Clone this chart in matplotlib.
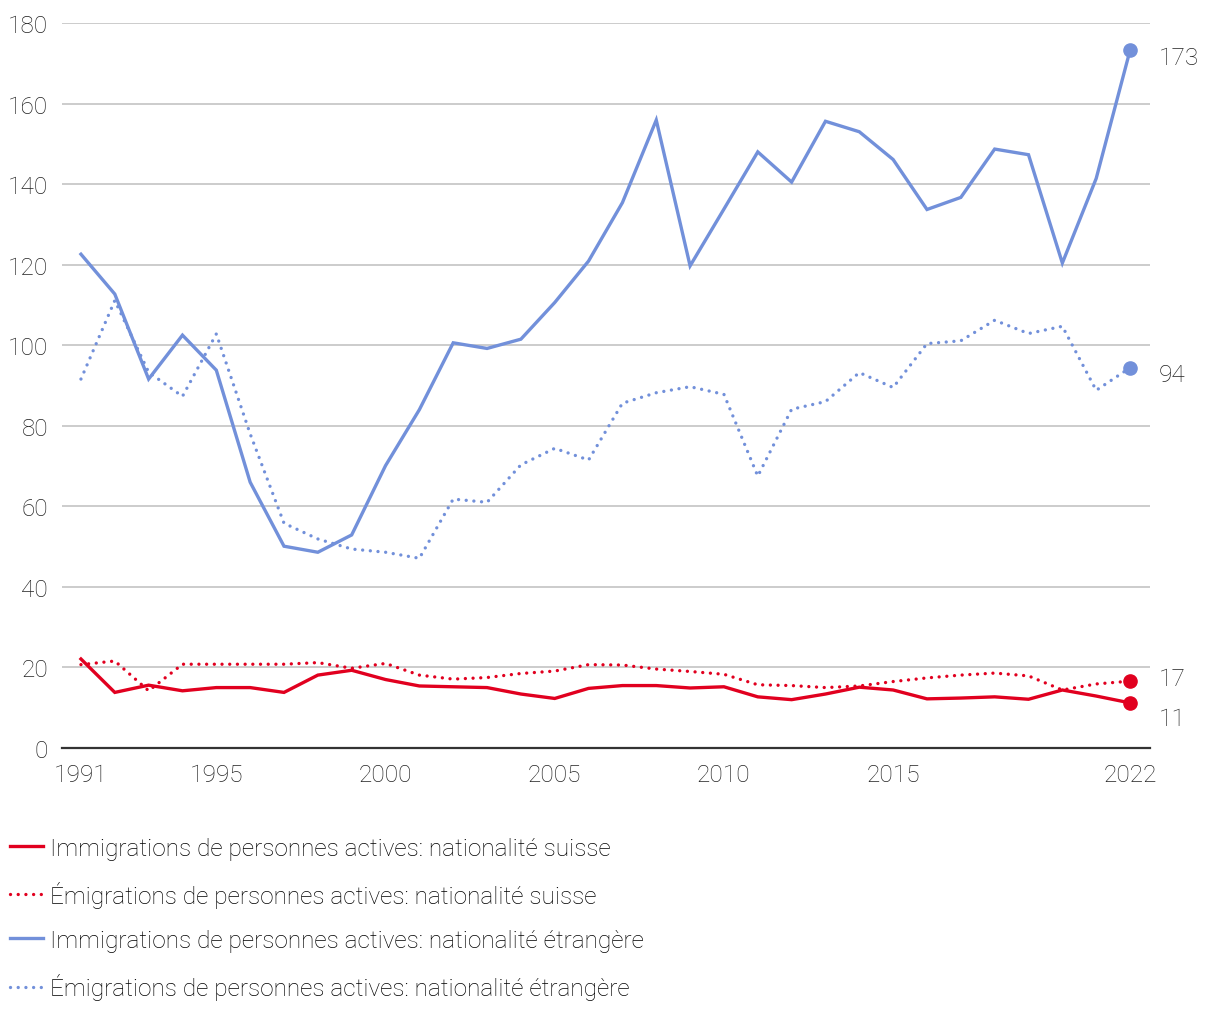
import numpy as np
import matplotlib
matplotlib.use("Agg")
import matplotlib.pyplot as plt

# data (thousands of persons)
years = list(range(1991, 2023))

imm_swiss = [22.1, 13.8, 15.6, 14.2, 15.0, 15.0, 13.8, 18.1, 19.3, 17.0,
             15.4, 15.2, 15.0, 13.4, 12.3, 14.8, 15.5, 15.5, 14.9, 15.2,
             12.7, 12.0, 13.4, 15.1, 14.4, 12.2, 12.4, 12.7, 12.1, 14.4,
             12.9, 11.2]
emi_swiss = [20.7, 21.6, 14.2, 20.8, 20.8, 20.8, 20.8, 21.2, 19.8, 21.0,
             18.1, 17.1, 17.5, 18.5, 19.1, 20.7, 20.6, 19.6, 19.0, 18.3,
             15.7, 15.5, 15.0, 15.4, 16.5, 17.4, 18.1, 18.6, 17.9, 14.4,
             15.9, 16.6]
imm_foreign = [122.6, 112.7, 91.6, 102.5, 93.8, 66.0, 50.1, 48.6, 52.9, 70.1,
               84.0, 100.6, 99.2, 101.5, 110.6, 120.9, 135.4, 155.9, 119.7, 133.8,
               148.0, 140.5, 155.6, 153.0, 146.1, 133.7, 136.7, 148.7, 147.3, 120.4,
               141.4, 173.2]
emi_foreign = [91.6, 111.1, 93.3, 87.3, 102.8, 78.0, 55.8, 51.9, 49.4, 48.6,
               47.1, 61.8, 61.0, 70.3, 74.4, 71.5, 85.6, 88.2, 89.7, 87.8,
               67.5, 84.1, 86.0, 93.2, 89.5, 100.4, 101.1, 106.2, 102.9, 104.7,
               88.8, 94.4]

labels = [
    "Immigrations de personnes actives: nationalité suisse",
    "Émigrations de personnes actives: nationalité suisse",
    "Immigrations de personnes actives: nationalité étrangère",
    "Émigrations de personnes actives: nationalité étrangère",
]
end_labels = ["11", "17", "173", "94"]
xtick_years = [1991, 1995, 2000, 2005, 2010, 2015, 2022]
yticks = list(range(0, 181, 20))

RED = "#E1001F"
BLUE = "#7290DA"
DOT = (0, (0.01, 2.3))

plt.rcParams['font.family'] = ['Roboto', 'DejaVu Sans']
plt.rcParams['font.weight'] = 'light'
FS = 17.6

fig = plt.figure(figsize=(12.2, 10.2), dpi=100)
ax = fig.add_axes([62 / 1220, 271 / 1020, 1088 / 1220, 725 / 1020])

series = [
    (imm_swiss, RED, '-'),
    (emi_swiss, RED, DOT),
    (imm_foreign, BLUE, '-'),
    (emi_foreign, BLUE, DOT),
]
handles = []
for (vals, col, ls), lab in zip(series, labels):
    ln, = ax.plot(years, vals, color=col, linestyle=ls, linewidth=2.4,
                  dash_capstyle='round', solid_joinstyle='miter', label=lab, zorder=3)
    handles.append(ln)
    ax.plot(years[-1], vals[-1], 'o', color=col, markersize=9.5, zorder=4)

# end value labels (vertical offsets in points)
offsets = [-11, 2, -5, -5]
for (vals, col, ls), txt, dy in zip(series, end_labels, offsets):
    ax.annotate(txt, (years[-1], vals[-1]), xytext=(21, dy), textcoords='offset points',
                ha='left', va='center', fontsize=FS, color='#222222', annotation_clip=False)

ax.set_xlim(1990.44, 2022.59)
ax.set_ylim(0, 180)
ax.set_xticks(xtick_years)
ax.set_yticks(yticks)
ax.tick_params(axis='both', length=0, labelsize=FS, colors='#222222')
ax.tick_params(axis='x', pad=11)
ax.tick_params(axis='y', pad=10)
ax.grid(axis='y', color='#CCCCCC', linewidth=1.4)
ax.set_axisbelow(True)
for s in ['top', 'right', 'left']:
    ax.spines[s].set_visible(False)
ax.spines['bottom'].set_color('#333333')
ax.spines['bottom'].set_linewidth(1.6)
ax.spines['bottom'].set_zorder(5)

fig.legend(handles=handles, loc='upper left', bbox_to_anchor=(10 / 1220, 1 - 838 / 1020),
           frameon=False, fontsize=FS, handlelength=1.35, handletextpad=0.3,
           labelspacing=0.86, borderpad=0, borderaxespad=0)

fig.savefig("out.png", dpi=100)
